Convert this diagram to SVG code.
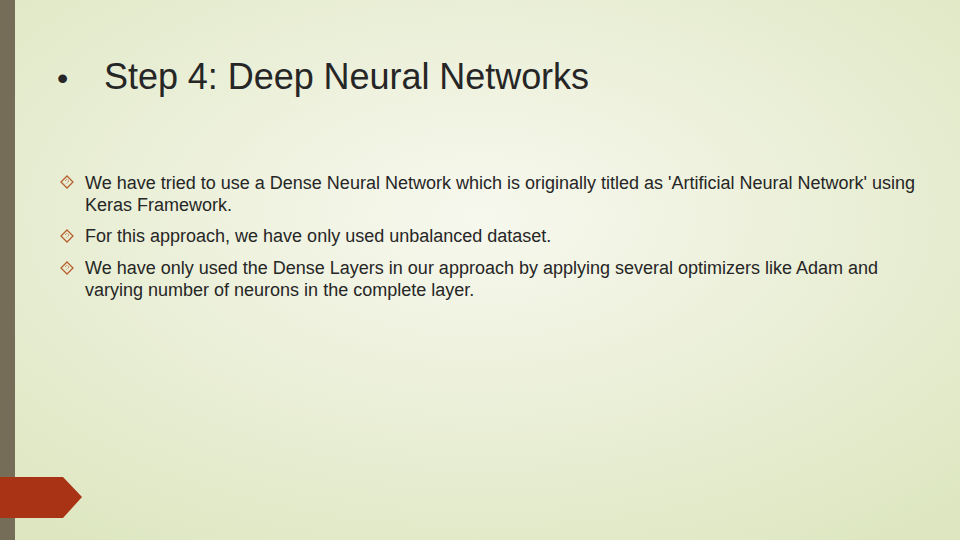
<svg xmlns="http://www.w3.org/2000/svg" width="960" height="540" viewBox="0 0 960 540">
<defs>
<radialGradient id="bg" cx="0.5" cy="0.4" r="0.75">
<stop offset="0" stop-color="#f7f8ee"/>
<stop offset="1" stop-color="#dde6c0"/>
</radialGradient>
<g id="dia"><path d="M0,-6 L6,0 L0,6 L-6,0 Z" fill="none" stroke="#b5602f" stroke-width="1.3"/><path d="M-2,-1 L0,-3 L2,-1 L0,1 L-1,2" fill="none" stroke="#b5602f" stroke-width="1" stroke-dasharray="1 1"/></g>
</defs>
<style>.b{font-family:"Liberation Sans",Arial,sans-serif;font-size:18px;fill:#262626}</style>
<rect width="960" height="540" fill="url(#bg)"/>
<rect x="0" y="0" width="15" height="540" fill="#756d57"/>
<path d="M0,477 L63,477 L82,497 L63,518 L0,518 Z" fill="#a93315"/>
<g id="title" font-family="'Liberation Sans',Arial,sans-serif" font-size="36" fill="#262626">
<text x="57" y="89" font-size="32">•</text>
<text x="104" y="89" textLength="485">Step 4: Deep Neural Networks</text>
</g>
<g id="bullets">
<use href="#dia" x="67" y="182"/>
<text class="b" x="85" y="189" textLength="830">We have tried to use a Dense Neural Network which is originally titled as 'Artificial Neural Network' using</text>
<text class="b" x="85" y="211">Keras Framework.</text>
<use href="#dia" x="67" y="236"/>
<text class="b" x="85" y="242">For this approach, we have only used unbalanced dataset.</text>
<use href="#dia" x="67" y="268"/>
<text class="b" x="85" y="274">We have only used the Dense Layers in our approach by applying several optimizers like Adam and</text>
<text class="b" x="85" y="296">varying number of neurons in the complete layer.</text>
</g>
</svg>
